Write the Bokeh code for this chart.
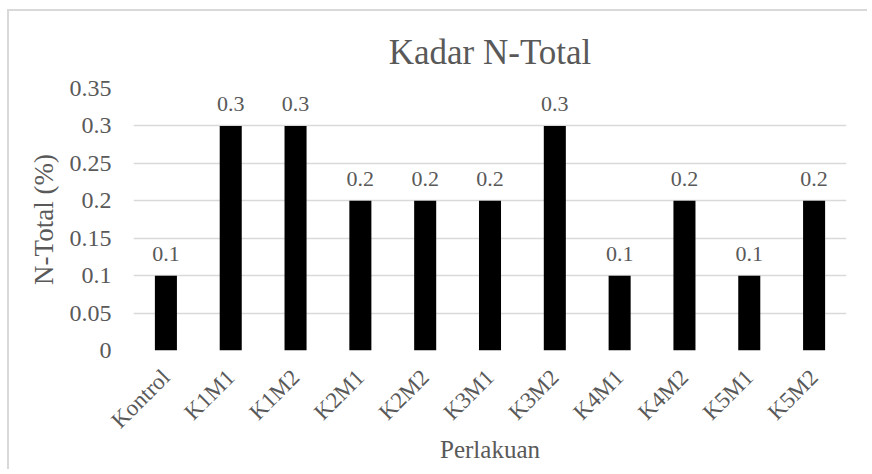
import math
from bokeh.plotting import figure
from bokeh.models import ColumnDataSource, LabelSet, FixedTicker, Title
from bokeh.embed import file_html
from bokeh.resources import INLINE

categories = ["Kontrol", "K1M1", "K1M2", "K2M1", "K2M2", "K3M1", "K3M2", "K4M1", "K4M2", "K5M1", "K5M2"]
values = [0.1, 0.3, 0.3, 0.2, 0.2, 0.2, 0.3, 0.1, 0.2, 0.1, 0.2]
value_labels = ["0.1", "0.3", "0.3", "0.2", "0.2", "0.2", "0.3", "0.1", "0.2", "0.1", "0.2"]
y_ticks = [0, 0.05, 0.1, 0.15, 0.2, 0.25, 0.3, 0.35]
y_tick_labels = ["0", "0.05", "0.1", "0.15", "0.2", "0.25", "0.3", "0.35"]

FONT = "Liberation Serif"
TXT = "#595959"
GRID = "#d9d9d9"

src = ColumnDataSource(dict(cat=categories, val=values, lab=value_labels))

p = figure(width=860, height=460, x_range=categories, y_range=(0, 0.35),
           output_backend="svg", toolbar_location=None,
           min_border_left=124, min_border_right=23, min_border_top=77, min_border_bottom=121)
p.styles = {"border-left": "2px solid #d9d9d9", "border-top": "2px solid #d9d9d9",
            "margin-left": "7px", "margin-top": "9px"}

p.title = Title(text="Kadar N-Total", align="center", text_font=FONT, text_font_size="35px",
                text_color=TXT, text_font_style="normal", standoff=34)

p.vbar(x="cat", top="val", width=0.34, source=src, fill_color="black", line_color=None)

labels = LabelSet(x="cat", y="val", text="lab", source=src, text_align="center",
                  text_baseline="alphabetic", y_offset=15, text_font=FONT,
                  text_font_size="22px", text_color=TXT)
p.add_layout(labels)

p.x_range.range_padding = 0
p.outline_line_color = None
p.background_fill_color = "white"
p.border_fill_color = "white"

p.xgrid.grid_line_color = None
p.ygrid.grid_line_color = GRID
p.ygrid.grid_line_width = 1.5

p.yaxis.ticker = FixedTicker(ticks=y_ticks)
p.yaxis.major_label_overrides = {t: l for t, l in zip(y_ticks, y_tick_labels)}

for ax in (p.xaxis[0], p.yaxis[0]):
    ax.axis_line_color = None
    ax.major_tick_line_color = None
    ax.minor_tick_line_color = None
    ax.major_tick_out = 0
    ax.major_tick_in = 0
    ax.major_label_text_font = FONT
    ax.major_label_text_color = TXT
    ax.axis_label_text_font = FONT
    ax.axis_label_text_color = TXT
    ax.axis_label_text_font_style = "normal"

p.yaxis.major_label_text_font_size = "24px"
p.yaxis.major_label_standoff = 22
p.yaxis.axis_label = "N-Total (%)"
p.yaxis.axis_label_text_font_size = "27px"
p.yaxis.axis_label_standoff = 8

p.xaxis.major_label_text_font_size = "23px"
p.xaxis.major_label_orientation = math.pi / 4
p.xaxis.major_label_standoff = 23
p.xaxis.axis_label = "Perlakuan"
p.xaxis.axis_label_text_font_size = "25px"
p.xaxis.axis_label_standoff = -9

open("out.html", "w").write(file_html(p, INLINE))
